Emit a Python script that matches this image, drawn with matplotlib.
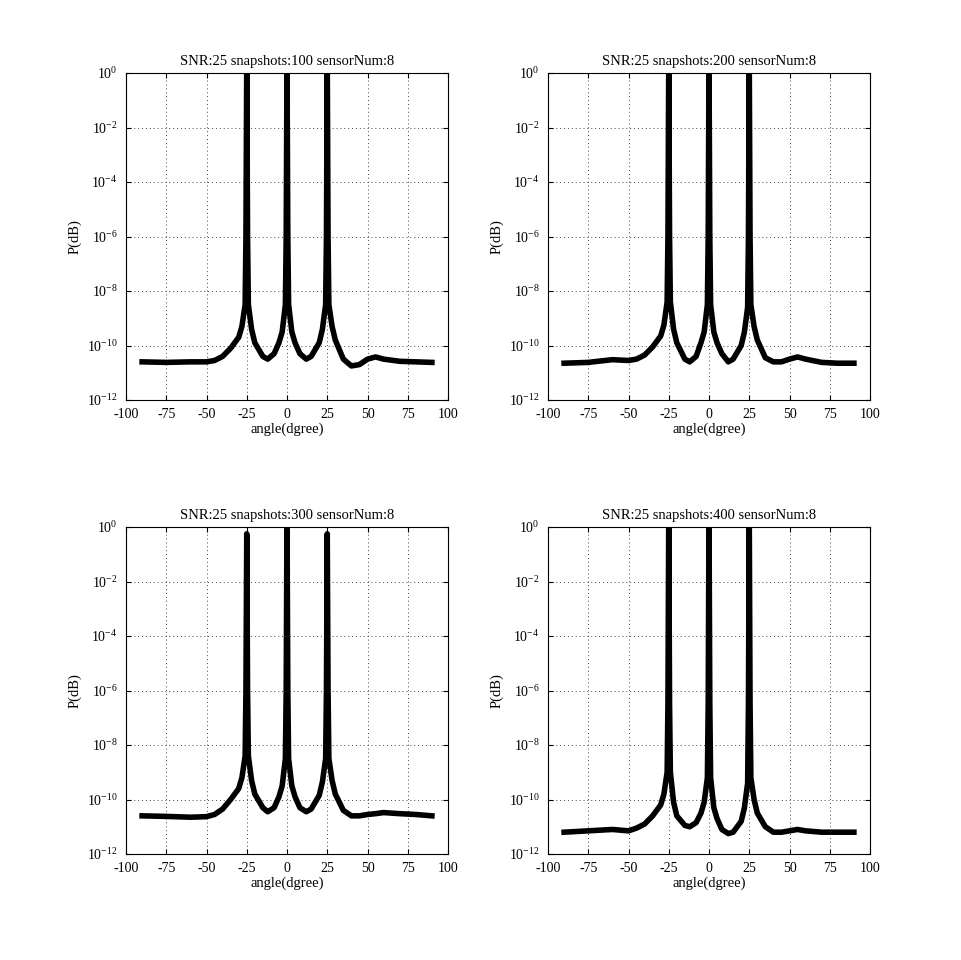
import numpy as np
import matplotlib.pyplot as plt
from matplotlib.ticker import NullLocator, FixedLocator

plt.rcParams['font.family'] = ['Liberation Serif', 'DejaVu Serif']
plt.rcParams['mathtext.fontset'] = 'stix'
plt.rcParams['axes.unicode_minus'] = False

angles = [-90, -75, -60, -50, -45, -40, -35, -30, -28, -26, -25.5, -25, -24.5, -24, -22, -20,
          -15, -12, -8, -5, -3, -1, -0.5, 0, 0.5, 1, 3, 5, 8, 12, 15, 20, 22, 24, 24.5, 25,
          25.5, 26, 28, 30, 35, 40, 45, 50, 55, 60, 70, 80, 90]

# log10 of spectrum
logp_100 = [-10.6, -10.62, -10.6, -10.6, -10.55, -10.4, -10.1, -9.7, -9.3, -8.5, -6, 0.5, -6, -8.5, -9.4, -9.9,
            -10.4, -10.5, -10.3, -9.9, -9.5, -8.5, -6, 0.5, -6, -8.5, -9.5, -9.9, -10.3, -10.5, -10.4, -9.9,
            -9.4, -8.5, -6, 0.5, -6, -8.5, -9.3, -9.8, -10.5, -10.75, -10.7, -10.5, -10.42, -10.5, -10.58,
            -10.6, -10.62]
logp_200 = [-10.65, -10.62, -10.52, -10.55, -10.5, -10.35, -10.05, -9.65, -9.25, -8.4, -6, 0.5, -6, -8.4, -9.4, -9.9,
            -10.5, -10.6, -10.4, -9.9, -9.5, -8.5, -6, 0.5, -6, -8.5, -9.5, -9.9, -10.3, -10.6, -10.5, -10.0,
            -9.5, -8.6, -6, 0.5, -6, -8.5, -9.3, -9.8, -10.45, -10.6, -10.6, -10.5, -10.42, -10.5, -10.62,
            -10.65, -10.65]
logp_300 = [-10.6, -10.62, -10.65, -10.63, -10.55, -10.35, -10.0, -9.6, -9.2, -8.4, -6, -0.25, -6, -8.4, -9.3, -9.8,
            -10.3, -10.45, -10.3, -9.9, -9.5, -8.5, -6, 0.5, -6, -8.5, -9.5, -9.9, -10.3, -10.45, -10.35, -9.85,
            -9.35, -8.5, -6, -0.25, -6, -8.5, -9.3, -9.8, -10.4, -10.6, -10.6, -10.55, -10.52, -10.48, -10.52,
            -10.55, -10.6]
logp_400 = [-11.2, -11.15, -11.1, -11.15, -11.05, -10.9, -10.6, -10.2, -9.8, -9.0, -6.5, 0.5, -6.5, -9.0, -10.1, -10.6,
            -10.95, -11.0, -10.85, -10.5, -10.1, -9.2, -6.5, 0.5, -6.5, -9.2, -10.3, -10.7, -11.1, -11.25, -11.2, -10.8,
            -10.3, -9.4, -6.5, 0.5, -6.5, -9.2, -10.0, -10.5, -11.0, -11.2, -11.2, -11.15, -11.1, -11.15, -11.2,
            -11.2, -11.2]

series = [(100, logp_100), (200, logp_200), (300, logp_300), (400, logp_400)]

fig = plt.figure(figsize=(9.61, 9.60), dpi=100)
W, H = 961, 960
lefts = [126, 548]
tops = [73, 527]
aw, ah = 322, 327

for i, (snap, logp) in enumerate(series):
    r, c = divmod(i, 2)
    ax = fig.add_axes([lefts[c] / W, 1 - (tops[r] + ah) / H, aw / W, ah / H])
    ax.semilogy(angles, 10 ** np.array(logp), color='black', lw=4, solid_joinstyle='round')
    ax.set_xlim(-100, 100)
    ax.set_ylim(1e-12, 1)
    ax.xaxis.set_major_locator(FixedLocator(np.arange(-100, 101, 25)))
    ax.yaxis.set_major_locator(FixedLocator([10.0 ** k for k in range(-12, 1, 2)]))
    ax.yaxis.set_minor_locator(NullLocator())
    ax.grid(True, which='major', linestyle=(0, (1, 3)), color='#444444', lw=0.7)
    ax.tick_params(direction='in', labelsize=10, top=True, right=True, pad=6)
    ax.set_title(f'SNR:25 snapshots:{snap} sensorNum:8', fontsize=10.5)
    ax.set_xlabel('angle(dgree)', fontsize=10.5, labelpad=1)
    ax.set_ylabel('P(dB)', fontsize=10.5)

fig.savefig('out.png', dpi=100)
